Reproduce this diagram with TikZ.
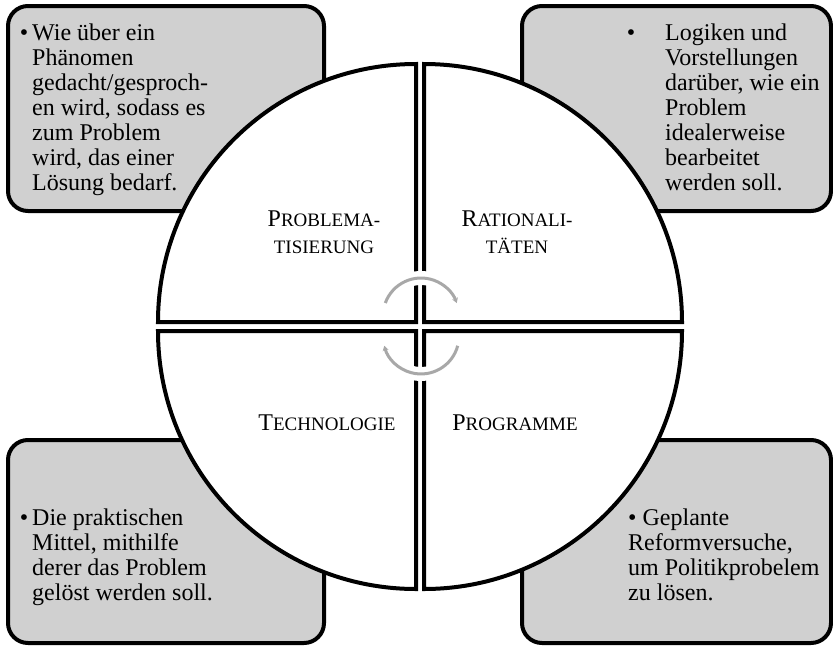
\documentclass[tikz,border=0pt]{standalone}
\usepackage{fontspec}
\setmainfont{Liberation Serif}
\usetikzlibrary{arrows.meta}
\definecolor{boxgray}{RGB}{208,208,208}
\definecolor{arrgray}{RGB}{168,168,168}
\newcommand{\scpart}[1]{{\fontsize{19}{25}\selectfont #1}}
\begin{document}
\begin{tikzpicture}[x=1pt,y=-1pt,
  infobox/.style={draw=black, line width=4pt, fill=boxgray, rounded corners=20pt},
  quadline/.style={draw=black, line width=4pt},
  halo/.style={white, line width=14pt},
  cyclearrow/.style={arrgray, line width=3pt, -{Stealth[length=5pt,width=6pt]}},
  txt/.style={anchor=north west, inner sep=0pt, align=left, font=\fontsize{24}{25}\selectfont},
  lbl/.style={inner sep=0pt, align=center, font=\fontsize{24}{27}\selectfont}
]
\useasboundingbox (0,0) rectangle (833,646);
% grey boxes
\path[infobox] (8,6) rectangle (324,211);
\path[infobox] (522,6) rectangle (831,211);
\path[infobox] (8,440) rectangle (324,643);
\path[infobox] (522,440) rectangle (831,643);
% quadrant fills
\fill[white] (158,322) arc[start angle=180,end angle=270,radius=258] -- (416,322) -- cycle;
\fill[white] (424,64) arc[start angle=270,end angle=360,radius=258] -- (424,322) -- cycle;
\fill[white] (682,331) arc[start angle=0,end angle=90,radius=258] -- (424,331) -- cycle;
\fill[white] (416,589) arc[start angle=90,end angle=180,radius=258] -- (416,331) -- cycle;
% quadrant outlines
\path[quadline] (158,322) arc[start angle=180,end angle=270,radius=258] -- (416,322) -- cycle;
\path[quadline] (424,64) arc[start angle=270,end angle=360,radius=258] -- (424,322) -- cycle;
\path[quadline] (682,331) arc[start angle=0,end angle=90,radius=258] -- (424,331) -- cycle;
\path[quadline] (416,589) arc[start angle=90,end angle=180,radius=258] -- (416,331) -- cycle;
% cycle arrows
\draw[halo] (385.3,303) arc[start angle=200,end angle=340,radius=38];
\draw[halo] (457.7,345.8) arc[start angle=15,end angle=165,radius=38];
\draw[cyclearrow] (385.3,303) arc[start angle=200,end angle=340,radius=38];
\draw[cyclearrow] (457.7,345.8) arc[start angle=15,end angle=165,radius=38];
% labels
\node[lbl] (lprob) at (324,232) {P\scpart{ROBLEMA-}\\\scpart{TISIERUNG}};
\node[lbl] (lrat) at (517,232) {R\scpart{ATIONALI-}\\\scpart{TÄTEN}};
\node[lbl] (ltech) at (327,423) {T\scpart{ECHNOLOGIE}};
\node[lbl] (lprog) at (515,423) {P\scpart{ROGRAMME}};
% texts
\node[txt] (t1) at (32,24) {\llap{•\hspace{4pt}}Wie über ein\\Phänomen\\gedacht/gesproch-\\en wird, sodass es\\zum Problem\\wird, das einer\\Lösung bedarf.};
\node[txt] (t2) at (665,24) {\llap{•\hspace{30pt}}Logiken und\\Vorstellungen\\darüber, wie ein\\Problem\\idealerweise\\bearbeitet\\werden soll.};
\node[txt] (t3) at (32,509) {\llap{•\hspace{4pt}}Die praktischen\\Mittel, mithilfe\\derer das Problem\\gelöst werden soll.};
\node[txt] (t4) at (628,509) {• Geplante\\Reformversuche,\\um Politikprobelem\\zu lösen.};
\end{tikzpicture}
\end{document}
